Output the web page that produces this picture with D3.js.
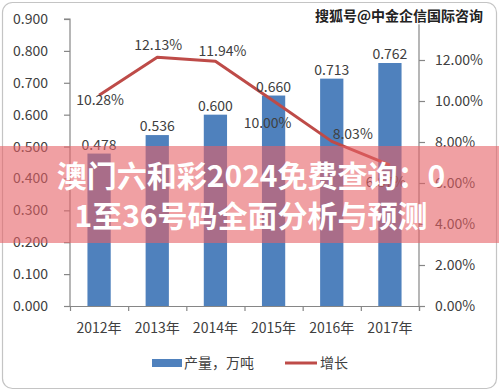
<!DOCTYPE html>
<html><head><meta charset="utf-8">
<script src="https://cdn.jsdelivr.net/npm/d3@7/dist/d3.min.js"></script>
<style>
html,body{margin:0;padding:0;background:#fff;}
svg{display:block;}
text{font-family:"Noto Sans CJK SC","Liberation Sans",sans-serif;}
</style></head><body>
<script>
const years = ["2012年","2013年","2014年","2015年","2016年","2017年"];
const output = [0.478,0.536,0.600,0.660,0.713,0.762];
const growth = [0.1028,0.1213,0.1194,0.1000,0.0803,0.0687];
const leftTicks = [0,0.1,0.2,0.3,0.4,0.5,0.6,0.7,0.8,0.9];
const rightTicks = [0,0.02,0.04,0.06,0.08,0.10,0.12];
const seriesNames = ["产量，万吨","增长"];
const bannerLines = ["澳门六和彩2024免费查询：0","1至36号码全面分析与预测"];
const watermark = "搜狐号@中金企信国际咨询";
// label placement offsets for the growth labels [dx, dy]
const growthLabelOffsets = [[1,10],[1,-7],[7,-5],[-6,27],[21,-2],[-4,22]];

const W=499,H=391;
const m={l:70,r:80,t:19,b:85};
const svg=d3.select("body").append("svg").attr("width",W).attr("height",H);
svg.append("rect").attr("x",2.5).attr("y",2.5).attr("width",W-5).attr("height",H-5)
  .attr("rx",10).attr("fill","#fff").attr("stroke","#c4c4c4").attr("stroke-width",1.2);

const x=d3.scaleBand().domain(years).range([m.l,W-m.r]).paddingInner(0.6).paddingOuter(0.3);
const y=d3.scaleLinear().domain([0,0.9]).range([H-m.b,m.t]);
const y2=d3.scaleLinear().domain([0,0.14]).range([H-m.b,m.t]);
const axisColor="#868686", textColor="#404040";

// bars
svg.selectAll("rect.bar").data(output).join("rect").attr("class","bar")
  .attr("x",(d,i)=>x(years[i])).attr("width",x.bandwidth())
  .attr("y",d=>y(d)).attr("height",d=>y(0)-y(d)).attr("fill","#4F81BD");

// axes
const gl=svg.append("g").attr("transform",`translate(${m.l},0)`)
  .call(d3.axisLeft(y).tickValues(leftTicks).tickFormat(d3.format(".3f")).tickSize(6).tickPadding(16));
const gr=svg.append("g").attr("transform",`translate(${W-m.r},0)`)
  .call(d3.axisRight(y2).tickValues(rightTicks).tickFormat(d3.format(".2%")).tickSize(6).tickPadding(10));
const x0=d3.scaleLinear().domain([0,years.length]).range([m.l,W-m.r]);
const gx=svg.append("g").attr("transform",`translate(0,${H-m.b})`)
  .call(d3.axisBottom(x0).tickValues(d3.range(years.length+1)).tickFormat("").tickSize(5));
gx.selectAll(".tick").filter((d,i)=>i===0).remove();
const gxl=svg.append("g").attr("transform",`translate(0,${H-m.b})`)
  .call(d3.axisBottom(x).tickSize(0).tickPadding(17));
gxl.select(".domain").remove();
[gl,gr,gx].forEach(g=>{g.select(".domain").attr("stroke",axisColor).attr("stroke-width",1.2);
  g.selectAll(".tick line").attr("stroke",axisColor).attr("stroke-width",1.2);});
gl.select(".domain").attr("d",`M-6,${y(0.9)}H0V${y(0)}`);
gr.select(".domain").attr("d",`M0,${y2(0.14)}V${y2(0)}`);
[gl,gr,gxl].forEach(g=>g.selectAll("text").attr("fill",textColor).style("font-size","14px")
  .style("font-family",'"Noto Sans CJK SC","Liberation Sans",sans-serif'));

// line
const cx=(i)=>x(years[i])+x.bandwidth()/2;
svg.append("path").datum(growth).attr("fill","none").attr("stroke","#BE4B48").attr("stroke-width",3)
  .attr("stroke-linejoin","round")
  .attr("d",d3.line().x((d,i)=>cx(i)).y(d=>y2(d)));

// bar labels
svg.selectAll("text.bl").data(output).join("text").attr("class","bl")
  .attr("x",(d,i)=>cx(i)).attr("y",d=>y(d)-4).attr("text-anchor","middle")
  .attr("fill",textColor).style("font-size","14px").text(d=>d3.format(".3f")(d));
// growth labels
svg.selectAll("text.gl").data(growth).join("text").attr("class","gl")
  .attr("x",(d,i)=>cx(i)+growthLabelOffsets[i][0]).attr("y",(d,i)=>y2(d)+growthLabelOffsets[i][1])
  .attr("text-anchor","middle").attr("fill",textColor).style("font-size","14px")
  .text(d=>d3.format(".2%")(d));

// legend
const ly=363;
svg.append("rect").attr("x",152).attr("y",ly-4).attr("width",30).attr("height",8).attr("fill","#4F81BD");
svg.append("text").attr("x",184).attr("y",ly+5).attr("fill",textColor).style("font-size","14px").text(seriesNames[0]);
svg.append("line").attr("x1",285).attr("x2",317).attr("y1",ly).attr("y2",ly).attr("stroke","#BE4B48").attr("stroke-width",3);
svg.append("text").attr("x",320).attr("y",ly+5).attr("fill",textColor).style("font-size","14px").text(seriesNames[1]);

// watermark
svg.append("text").attr("x",483).attr("y",21).attr("text-anchor","end")
  .style("font-size","14px").style("font-weight","700")
  .attr("fill","#222").attr("stroke","#fff").attr("stroke-width",2.5).attr("paint-order","stroke")
  .text(watermark);

// banner
svg.append("rect").attr("x",0).attr("y",146).attr("width",W).attr("height",97)
  .attr("fill","rgb(230,97,102)").attr("fill-opacity",0.6);
svg.selectAll("text.bn").data(bannerLines).join("text").attr("class","bn")
  .attr("x",251).attr("y",(d,i)=>187+i*40).attr("text-anchor","middle")
  .attr("fill","#fff").style("font-size","30px").style("font-weight","700").text(d=>d);
</script>
</body></html>
